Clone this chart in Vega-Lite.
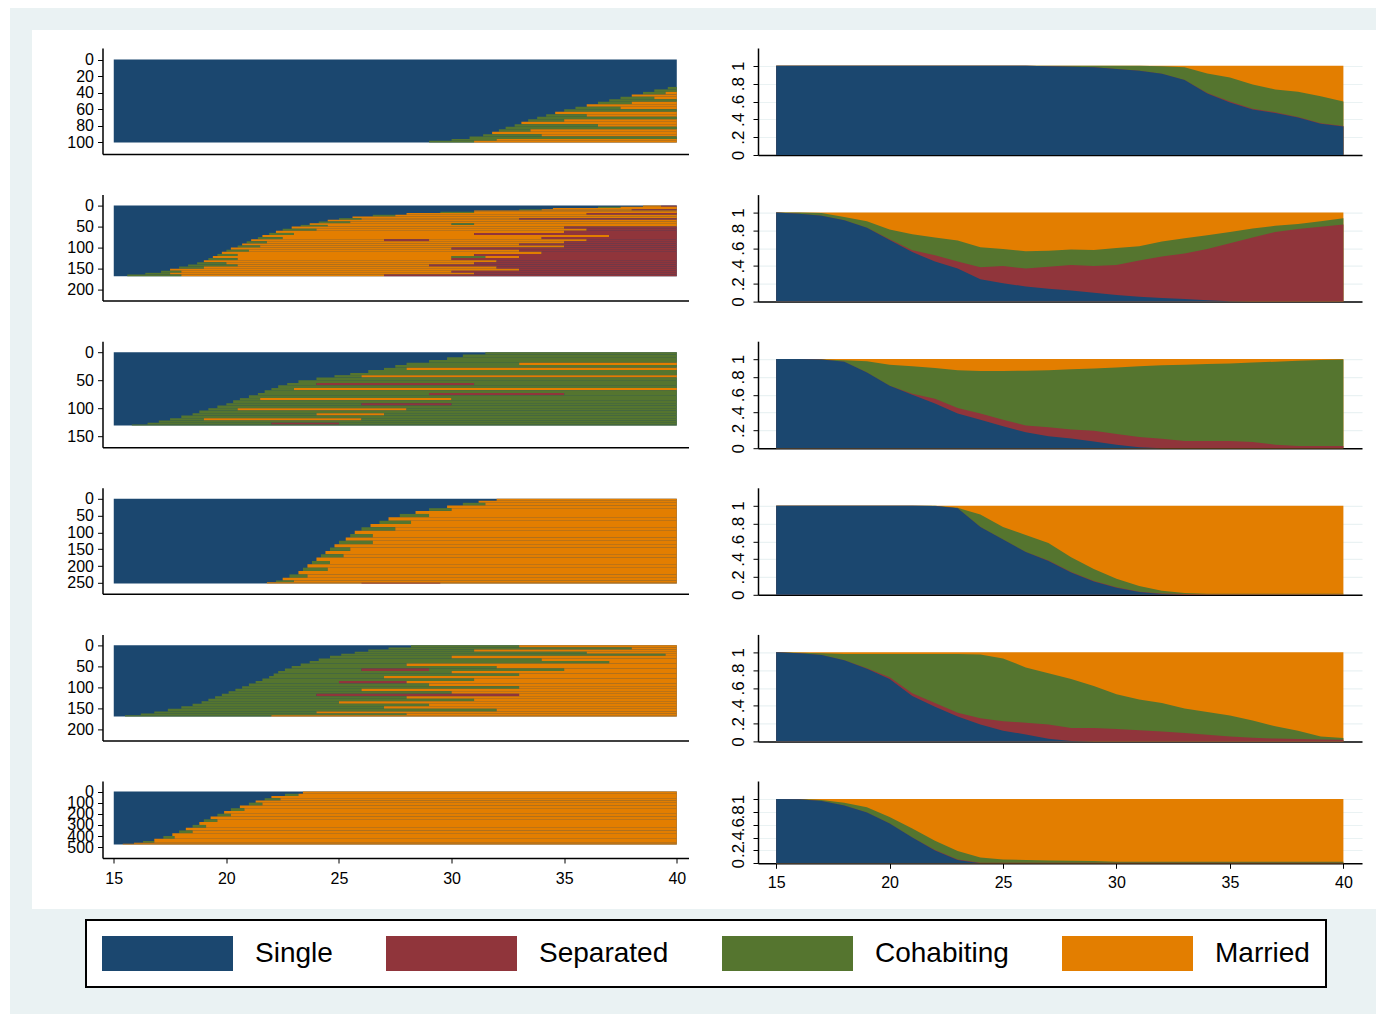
{
"$schema": "https://vega.github.io/schema/vega-lite/v6.json",
"background": "white",
"padding": {"left": 10, "top": 8, "right": 0, "bottom": 0},
"config": {
 "view": {"stroke": null},
 "font": "Liberation Sans",
 "axis": {"domainColor": "#000000", "domainWidth": 1.5, "tickColor": "#000000", "tickWidth": 1, "tickSize": 5, "labelColor": "#000000", "labelFont": "Liberation Sans", "labelFontSize": 16, "grid": false, "labelOverlap": false, "labelFlush": false},
 "legend": {"strokeWidth": 2}
},
"datasets": {
"seq": [
{"p":1,"r0":0,"r1":100,"a0":15,"a1":40,"s":"Single"},
{"p":1,"r0":33,"r1":36,"a0":39.6,"a1":40,"s":"Cohabiting"},
{"p":1,"r0":36,"r1":39,"a0":39,"a1":40,"s":"Cohabiting"},
{"p":1,"r0":39,"r1":42,"a0":38.5,"a1":39.5,"s":"Cohabiting"},
{"p":1,"r0":39,"r1":42,"a0":39.5,"a1":40,"s":"Married"},
{"p":1,"r0":42,"r1":45,"a0":38,"a1":40,"s":"Married"},
{"p":1,"r0":45,"r1":48,"a0":37.5,"a1":39,"s":"Cohabiting"},
{"p":1,"r0":45,"r1":48,"a0":39,"a1":40,"s":"Married"},
{"p":1,"r0":48,"r1":51,"a0":37,"a1":40,"s":"Cohabiting"},
{"p":1,"r0":51,"r1":54,"a0":36.5,"a1":38,"s":"Cohabiting"},
{"p":1,"r0":51,"r1":54,"a0":38,"a1":40,"s":"Married"},
{"p":1,"r0":54,"r1":57,"a0":36,"a1":40,"s":"Married"},
{"p":1,"r0":57,"r1":60,"a0":35.5,"a1":37.5,"s":"Cohabiting"},
{"p":1,"r0":57,"r1":60,"a0":37.5,"a1":40,"s":"Married"},
{"p":1,"r0":60,"r1":63,"a0":35,"a1":40,"s":"Cohabiting"},
{"p":1,"r0":63,"r1":66,"a0":34.6,"a1":40,"s":"Married"},
{"p":1,"r0":66,"r1":69,"a0":34.2,"a1":36,"s":"Cohabiting"},
{"p":1,"r0":66,"r1":69,"a0":36,"a1":40,"s":"Married"},
{"p":1,"r0":69,"r1":72,"a0":33.8,"a1":40,"s":"Cohabiting"},
{"p":1,"r0":72,"r1":75,"a0":33.4,"a1":35,"s":"Cohabiting"},
{"p":1,"r0":72,"r1":75,"a0":35,"a1":40,"s":"Married"},
{"p":1,"r0":75,"r1":78,"a0":33.1,"a1":40,"s":"Married"},
{"p":1,"r0":78,"r1":81,"a0":32.8,"a1":36.5,"s":"Cohabiting"},
{"p":1,"r0":78,"r1":81,"a0":36.5,"a1":40,"s":"Married"},
{"p":1,"r0":81,"r1":84,"a0":32.4,"a1":40,"s":"Cohabiting"},
{"p":1,"r0":84,"r1":87,"a0":32.1,"a1":33.5,"s":"Cohabiting"},
{"p":1,"r0":84,"r1":87,"a0":33.5,"a1":40,"s":"Married"},
{"p":1,"r0":87,"r1":90,"a0":31.8,"a1":40,"s":"Married"},
{"p":1,"r0":90,"r1":93,"a0":31.4,"a1":34,"s":"Cohabiting"},
{"p":1,"r0":90,"r1":93,"a0":34,"a1":40,"s":"Married"},
{"p":1,"r0":93,"r1":96,"a0":30.8,"a1":40,"s":"Cohabiting"},
{"p":1,"r0":96,"r1":98,"a0":30,"a1":32,"s":"Cohabiting"},
{"p":1,"r0":96,"r1":98,"a0":32,"a1":40,"s":"Married"},
{"p":1,"r0":98,"r1":100,"a0":29,"a1":31,"s":"Cohabiting"},
{"p":1,"r0":98,"r1":100,"a0":31,"a1":40,"s":"Married"},

{"p":2,"r0":0,"r1":168,"a0":15,"a1":40,"s":"Single"},
{"p":2,"r0":0,"r1":3,"a0":38.5,"a1":39.3,"s":"Married"},
{"p":2,"r0":0,"r1":3,"a0":39.3,"a1":40,"s":"Separated"},
{"p":2,"r0":3,"r1":6,"a0":36.5,"a1":37.5,"s":"Cohabiting"},
{"p":2,"r0":3,"r1":6,"a0":37.5,"a1":40,"s":"Married"},
{"p":2,"r0":6,"r1":9,"a0":34.5,"a1":40,"s":"Married"},
{"p":2,"r0":9,"r1":12,"a0":33,"a1":34,"s":"Cohabiting"},
{"p":2,"r0":9,"r1":12,"a0":34,"a1":38,"s":"Married"},
{"p":2,"r0":9,"r1":12,"a0":38,"a1":40,"s":"Separated"},
{"p":2,"r0":12,"r1":15,"a0":31,"a1":40,"s":"Married"},
{"p":2,"r0":15,"r1":18,"a0":29.5,"a1":31,"s":"Cohabiting"},
{"p":2,"r0":15,"r1":18,"a0":31,"a1":40,"s":"Married"},
{"p":2,"r0":18,"r1":22,"a0":28,"a1":36,"s":"Married"},
{"p":2,"r0":18,"r1":22,"a0":36,"a1":40,"s":"Separated"},
{"p":2,"r0":22,"r1":26,"a0":26.5,"a1":27.5,"s":"Cohabiting"},
{"p":2,"r0":22,"r1":26,"a0":27.5,"a1":40,"s":"Married"},
{"p":2,"r0":26,"r1":30,"a0":25.6,"a1":40,"s":"Married"},
{"p":2,"r0":30,"r1":34,"a0":25,"a1":26,"s":"Cohabiting"},
{"p":2,"r0":30,"r1":34,"a0":26,"a1":33,"s":"Married"},
{"p":2,"r0":30,"r1":34,"a0":33,"a1":40,"s":"Separated"},
{"p":2,"r0":34,"r1":38,"a0":24.5,"a1":40,"s":"Married"},
{"p":2,"r0":38,"r1":42,"a0":24.1,"a1":25.5,"s":"Cohabiting"},
{"p":2,"r0":38,"r1":42,"a0":25.5,"a1":40,"s":"Married"},
{"p":2,"r0":42,"r1":46,"a0":23.7,"a1":30,"s":"Married"},
{"p":2,"r0":42,"r1":46,"a0":30,"a1":31,"s":"Cohabiting"},
{"p":2,"r0":42,"r1":46,"a0":31,"a1":40,"s":"Married"},
{"p":2,"r0":46,"r1":50,"a0":23.3,"a1":24.5,"s":"Cohabiting"},
{"p":2,"r0":46,"r1":50,"a0":24.5,"a1":40,"s":"Married"},
{"p":2,"r0":50,"r1":55,"a0":22.9,"a1":35,"s":"Married"},
{"p":2,"r0":50,"r1":55,"a0":35,"a1":40,"s":"Separated"},
{"p":2,"r0":55,"r1":60,"a0":22.5,"a1":24,"s":"Cohabiting"},
{"p":2,"r0":55,"r1":60,"a0":24,"a1":36,"s":"Married"},
{"p":2,"r0":55,"r1":60,"a0":36,"a1":40,"s":"Separated"},
{"p":2,"r0":60,"r1":65,"a0":22.2,"a1":35,"s":"Married"},
{"p":2,"r0":60,"r1":65,"a0":35,"a1":40,"s":"Separated"},
{"p":2,"r0":65,"r1":70,"a0":21.9,"a1":23,"s":"Cohabiting"},
{"p":2,"r0":65,"r1":70,"a0":23,"a1":31,"s":"Married"},
{"p":2,"r0":65,"r1":70,"a0":31,"a1":40,"s":"Separated"},
{"p":2,"r0":70,"r1":75,"a0":21.6,"a1":37,"s":"Married"},
{"p":2,"r0":70,"r1":75,"a0":37,"a1":40,"s":"Separated"},
{"p":2,"r0":75,"r1":80,"a0":21.4,"a1":22.5,"s":"Cohabiting"},
{"p":2,"r0":75,"r1":80,"a0":22.5,"a1":34,"s":"Married"},
{"p":2,"r0":75,"r1":80,"a0":34,"a1":40,"s":"Separated"},
{"p":2,"r0":80,"r1":85,"a0":21.1,"a1":27,"s":"Married"},
{"p":2,"r0":80,"r1":85,"a0":27,"a1":29,"s":"Separated"},
{"p":2,"r0":80,"r1":85,"a0":29,"a1":36,"s":"Married"},
{"p":2,"r0":80,"r1":85,"a0":36,"a1":40,"s":"Separated"},
{"p":2,"r0":85,"r1":90,"a0":20.9,"a1":21.8,"s":"Cohabiting"},
{"p":2,"r0":85,"r1":90,"a0":21.8,"a1":35,"s":"Married"},
{"p":2,"r0":85,"r1":90,"a0":35,"a1":40,"s":"Separated"},
{"p":2,"r0":90,"r1":95,"a0":20.7,"a1":33,"s":"Married"},
{"p":2,"r0":90,"r1":95,"a0":33,"a1":40,"s":"Separated"},
{"p":2,"r0":95,"r1":100,"a0":20.5,"a1":21.5,"s":"Cohabiting"},
{"p":2,"r0":95,"r1":100,"a0":21.5,"a1":35,"s":"Married"},
{"p":2,"r0":95,"r1":100,"a0":35,"a1":40,"s":"Separated"},
{"p":2,"r0":100,"r1":105,"a0":20.2,"a1":30,"s":"Married"},
{"p":2,"r0":100,"r1":105,"a0":30,"a1":40,"s":"Separated"},
{"p":2,"r0":105,"r1":110,"a0":20,"a1":21,"s":"Cohabiting"},
{"p":2,"r0":105,"r1":110,"a0":21,"a1":33,"s":"Married"},
{"p":2,"r0":105,"r1":110,"a0":33,"a1":40,"s":"Separated"},
{"p":2,"r0":110,"r1":115,"a0":19.8,"a1":34,"s":"Married"},
{"p":2,"r0":110,"r1":115,"a0":34,"a1":40,"s":"Separated"},
{"p":2,"r0":115,"r1":120,"a0":19.6,"a1":20.5,"s":"Cohabiting"},
{"p":2,"r0":115,"r1":120,"a0":20.5,"a1":31,"s":"Married"},
{"p":2,"r0":115,"r1":120,"a0":31,"a1":40,"s":"Separated"},
{"p":2,"r0":120,"r1":125,"a0":19.4,"a1":30,"s":"Married"},
{"p":2,"r0":120,"r1":125,"a0":30,"a1":31.5,"s":"Cohabiting"},
{"p":2,"r0":120,"r1":125,"a0":31.5,"a1":33,"s":"Married"},
{"p":2,"r0":120,"r1":125,"a0":33,"a1":40,"s":"Separated"},
{"p":2,"r0":125,"r1":130,"a0":19.2,"a1":20.5,"s":"Cohabiting"},
{"p":2,"r0":125,"r1":130,"a0":20.5,"a1":30,"s":"Married"},
{"p":2,"r0":125,"r1":130,"a0":30,"a1":40,"s":"Separated"},
{"p":2,"r0":130,"r1":135,"a0":19,"a1":32,"s":"Married"},
{"p":2,"r0":130,"r1":135,"a0":32,"a1":40,"s":"Separated"},
{"p":2,"r0":135,"r1":140,"a0":18.7,"a1":20,"s":"Cohabiting"},
{"p":2,"r0":135,"r1":140,"a0":20,"a1":31,"s":"Married"},
{"p":2,"r0":135,"r1":140,"a0":31,"a1":40,"s":"Separated"},
{"p":2,"r0":140,"r1":145,"a0":18.3,"a1":20.5,"s":"Cohabiting"},
{"p":2,"r0":140,"r1":145,"a0":20.5,"a1":29,"s":"Married"},
{"p":2,"r0":140,"r1":145,"a0":29,"a1":40,"s":"Separated"},
{"p":2,"r0":145,"r1":150,"a0":17.9,"a1":19,"s":"Cohabiting"},
{"p":2,"r0":145,"r1":150,"a0":19,"a1":32,"s":"Married"},
{"p":2,"r0":145,"r1":150,"a0":32,"a1":40,"s":"Separated"},
{"p":2,"r0":150,"r1":155,"a0":17.5,"a1":33,"s":"Married"},
{"p":2,"r0":150,"r1":155,"a0":33,"a1":40,"s":"Separated"},
{"p":2,"r0":155,"r1":160,"a0":17.1,"a1":18,"s":"Cohabiting"},
{"p":2,"r0":155,"r1":160,"a0":18,"a1":30,"s":"Married"},
{"p":2,"r0":155,"r1":160,"a0":30,"a1":40,"s":"Separated"},
{"p":2,"r0":160,"r1":164,"a0":16.4,"a1":17.5,"s":"Cohabiting"},
{"p":2,"r0":160,"r1":164,"a0":17.5,"a1":31,"s":"Married"},
{"p":2,"r0":160,"r1":164,"a0":31,"a1":40,"s":"Separated"},
{"p":2,"r0":164,"r1":168,"a0":15.6,"a1":18,"s":"Cohabiting"},
{"p":2,"r0":164,"r1":168,"a0":18,"a1":27,"s":"Married"},
{"p":2,"r0":164,"r1":168,"a0":27,"a1":40,"s":"Separated"},

{"p":3,"r0":0,"r1":131,"a0":15,"a1":40,"s":"Single"},
{"p":3,"r0":0,"r1":4,"a0":31.5,"a1":40,"s":"Cohabiting"},
{"p":3,"r0":4,"r1":9,"a0":30.5,"a1":40,"s":"Cohabiting"},
{"p":3,"r0":9,"r1":14,"a0":29.8,"a1":40,"s":"Cohabiting"},
{"p":3,"r0":14,"r1":19,"a0":29,"a1":40,"s":"Cohabiting"},
{"p":3,"r0":19,"r1":23,"a0":28,"a1":33,"s":"Cohabiting"},
{"p":3,"r0":19,"r1":23,"a0":33,"a1":40,"s":"Married"},
{"p":3,"r0":23,"r1":28,"a0":27.5,"a1":40,"s":"Cohabiting"},
{"p":3,"r0":28,"r1":32,"a0":27,"a1":28,"s":"Cohabiting"},
{"p":3,"r0":28,"r1":32,"a0":28,"a1":40,"s":"Married"},
{"p":3,"r0":32,"r1":37,"a0":26.3,"a1":40,"s":"Cohabiting"},
{"p":3,"r0":37,"r1":41,"a0":25.5,"a1":40,"s":"Cohabiting"},
{"p":3,"r0":41,"r1":45,"a0":24.8,"a1":26,"s":"Cohabiting"},
{"p":3,"r0":41,"r1":45,"a0":26,"a1":40,"s":"Married"},
{"p":3,"r0":45,"r1":50,"a0":24,"a1":40,"s":"Cohabiting"},
{"p":3,"r0":50,"r1":55,"a0":23.2,"a1":40,"s":"Cohabiting"},
{"p":3,"r0":55,"r1":59,"a0":22.7,"a1":24,"s":"Cohabiting"},
{"p":3,"r0":55,"r1":59,"a0":24,"a1":31,"s":"Separated"},
{"p":3,"r0":55,"r1":59,"a0":31,"a1":40,"s":"Cohabiting"},
{"p":3,"r0":59,"r1":64,"a0":22.3,"a1":40,"s":"Cohabiting"},
{"p":3,"r0":64,"r1":68,"a0":22,"a1":23,"s":"Cohabiting"},
{"p":3,"r0":64,"r1":68,"a0":23,"a1":40,"s":"Married"},
{"p":3,"r0":68,"r1":73,"a0":21.7,"a1":40,"s":"Cohabiting"},
{"p":3,"r0":73,"r1":77,"a0":21.4,"a1":29,"s":"Cohabiting"},
{"p":3,"r0":73,"r1":77,"a0":29,"a1":35,"s":"Separated"},
{"p":3,"r0":73,"r1":77,"a0":35,"a1":40,"s":"Cohabiting"},
{"p":3,"r0":77,"r1":82,"a0":21,"a1":40,"s":"Cohabiting"},
{"p":3,"r0":82,"r1":86,"a0":20.6,"a1":21.5,"s":"Cohabiting"},
{"p":3,"r0":82,"r1":86,"a0":21.5,"a1":30,"s":"Married"},
{"p":3,"r0":82,"r1":86,"a0":30,"a1":40,"s":"Cohabiting"},
{"p":3,"r0":86,"r1":91,"a0":20.3,"a1":40,"s":"Cohabiting"},
{"p":3,"r0":91,"r1":95,"a0":20,"a1":26,"s":"Cohabiting"},
{"p":3,"r0":91,"r1":95,"a0":26,"a1":30,"s":"Separated"},
{"p":3,"r0":91,"r1":95,"a0":30,"a1":40,"s":"Cohabiting"},
{"p":3,"r0":95,"r1":100,"a0":19.6,"a1":40,"s":"Cohabiting"},
{"p":3,"r0":100,"r1":104,"a0":19.2,"a1":20.5,"s":"Cohabiting"},
{"p":3,"r0":100,"r1":104,"a0":20.5,"a1":28,"s":"Married"},
{"p":3,"r0":100,"r1":104,"a0":28,"a1":40,"s":"Cohabiting"},
{"p":3,"r0":104,"r1":109,"a0":18.8,"a1":40,"s":"Cohabiting"},
{"p":3,"r0":109,"r1":113,"a0":18.5,"a1":24,"s":"Cohabiting"},
{"p":3,"r0":109,"r1":113,"a0":24,"a1":27,"s":"Married"},
{"p":3,"r0":109,"r1":113,"a0":27,"a1":40,"s":"Cohabiting"},
{"p":3,"r0":113,"r1":118,"a0":18,"a1":40,"s":"Cohabiting"},
{"p":3,"r0":118,"r1":122,"a0":17.5,"a1":19,"s":"Cohabiting"},
{"p":3,"r0":118,"r1":122,"a0":19,"a1":26,"s":"Married"},
{"p":3,"r0":118,"r1":122,"a0":26,"a1":40,"s":"Cohabiting"},
{"p":3,"r0":122,"r1":126,"a0":17,"a1":40,"s":"Cohabiting"},
{"p":3,"r0":126,"r1":129,"a0":16.5,"a1":22,"s":"Cohabiting"},
{"p":3,"r0":126,"r1":129,"a0":22,"a1":25,"s":"Separated"},
{"p":3,"r0":126,"r1":129,"a0":25,"a1":40,"s":"Cohabiting"},
{"p":3,"r0":129,"r1":131,"a0":15.8,"a1":40,"s":"Cohabiting"},

{"p":4,"r0":0,"r1":252,"a0":15,"a1":40,"s":"Single"},
{"p":4,"r0":0,"r1":6,"a0":32,"a1":40,"s":"Married"},
{"p":4,"r0":6,"r1":12,"a0":31.2,"a1":40,"s":"Married"},
{"p":4,"r0":12,"r1":20,"a0":30.5,"a1":31.5,"s":"Cohabiting"},
{"p":4,"r0":12,"r1":20,"a0":31.5,"a1":40,"s":"Married"},
{"p":4,"r0":20,"r1":28,"a0":29.8,"a1":40,"s":"Married"},
{"p":4,"r0":28,"r1":36,"a0":29,"a1":30,"s":"Cohabiting"},
{"p":4,"r0":28,"r1":36,"a0":30,"a1":40,"s":"Married"},
{"p":4,"r0":36,"r1":45,"a0":28.4,"a1":40,"s":"Married"},
{"p":4,"r0":45,"r1":55,"a0":27.7,"a1":29,"s":"Cohabiting"},
{"p":4,"r0":45,"r1":55,"a0":29,"a1":40,"s":"Married"},
{"p":4,"r0":55,"r1":65,"a0":27.2,"a1":40,"s":"Married"},
{"p":4,"r0":65,"r1":75,"a0":26.8,"a1":28.2,"s":"Cohabiting"},
{"p":4,"r0":65,"r1":75,"a0":28.2,"a1":40,"s":"Married"},
{"p":4,"r0":75,"r1":85,"a0":26.4,"a1":40,"s":"Married"},
{"p":4,"r0":85,"r1":95,"a0":26,"a1":27.5,"s":"Cohabiting"},
{"p":4,"r0":85,"r1":95,"a0":27.5,"a1":40,"s":"Married"},
{"p":4,"r0":95,"r1":105,"a0":25.7,"a1":40,"s":"Married"},
{"p":4,"r0":105,"r1":115,"a0":25.5,"a1":26.5,"s":"Cohabiting"},
{"p":4,"r0":105,"r1":115,"a0":26.5,"a1":40,"s":"Married"},
{"p":4,"r0":115,"r1":125,"a0":25.3,"a1":40,"s":"Married"},
{"p":4,"r0":125,"r1":135,"a0":25,"a1":26.5,"s":"Cohabiting"},
{"p":4,"r0":125,"r1":135,"a0":26.5,"a1":40,"s":"Married"},
{"p":4,"r0":135,"r1":145,"a0":24.8,"a1":40,"s":"Married"},
{"p":4,"r0":145,"r1":155,"a0":24.6,"a1":25.5,"s":"Cohabiting"},
{"p":4,"r0":145,"r1":155,"a0":25.5,"a1":40,"s":"Married"},
{"p":4,"r0":155,"r1":165,"a0":24.4,"a1":40,"s":"Married"},
{"p":4,"r0":165,"r1":175,"a0":24.2,"a1":25.2,"s":"Cohabiting"},
{"p":4,"r0":165,"r1":175,"a0":25.2,"a1":40,"s":"Married"},
{"p":4,"r0":175,"r1":185,"a0":24,"a1":40,"s":"Married"},
{"p":4,"r0":185,"r1":195,"a0":23.8,"a1":24.6,"s":"Cohabiting"},
{"p":4,"r0":185,"r1":195,"a0":24.6,"a1":40,"s":"Married"},
{"p":4,"r0":195,"r1":205,"a0":23.6,"a1":40,"s":"Married"},
{"p":4,"r0":205,"r1":215,"a0":23.4,"a1":24.5,"s":"Cohabiting"},
{"p":4,"r0":205,"r1":215,"a0":24.5,"a1":40,"s":"Married"},
{"p":4,"r0":215,"r1":225,"a0":23.2,"a1":40,"s":"Married"},
{"p":4,"r0":225,"r1":235,"a0":22.8,"a1":23.6,"s":"Cohabiting"},
{"p":4,"r0":225,"r1":235,"a0":23.6,"a1":40,"s":"Married"},
{"p":4,"r0":235,"r1":243,"a0":22.5,"a1":40,"s":"Married"},
{"p":4,"r0":243,"r1":248,"a0":22.2,"a1":23,"s":"Cohabiting"},
{"p":4,"r0":243,"r1":248,"a0":23,"a1":40,"s":"Married"},
{"p":4,"r0":248,"r1":252,"a0":21.8,"a1":40,"s":"Married"},
{"p":4,"r0":250,"r1":252,"a0":26,"a1":29.5,"s":"Separated"},

{"p":5,"r0":0,"r1":169,"a0":15,"a1":40,"s":"Single"},
{"p":5,"r0":0,"r1":5,"a0":28.2,"a1":33,"s":"Cohabiting"},
{"p":5,"r0":0,"r1":5,"a0":33,"a1":40,"s":"Married"},
{"p":5,"r0":5,"r1":10,"a0":27.2,"a1":38,"s":"Cohabiting"},
{"p":5,"r0":5,"r1":10,"a0":38,"a1":40,"s":"Married"},
{"p":5,"r0":10,"r1":15,"a0":26.3,"a1":31,"s":"Cohabiting"},
{"p":5,"r0":10,"r1":15,"a0":31,"a1":40,"s":"Married"},
{"p":5,"r0":15,"r1":20,"a0":25.7,"a1":36,"s":"Cohabiting"},
{"p":5,"r0":15,"r1":20,"a0":36,"a1":40,"s":"Married"},
{"p":5,"r0":20,"r1":25,"a0":25.1,"a1":39.5,"s":"Cohabiting"},
{"p":5,"r0":20,"r1":25,"a0":39.5,"a1":40,"s":"Married"},
{"p":5,"r0":25,"r1":31,"a0":24.6,"a1":30,"s":"Cohabiting"},
{"p":5,"r0":25,"r1":31,"a0":30,"a1":40,"s":"Married"},
{"p":5,"r0":31,"r1":37,"a0":24.1,"a1":34,"s":"Cohabiting"},
{"p":5,"r0":31,"r1":37,"a0":34,"a1":40,"s":"Married"},
{"p":5,"r0":37,"r1":43,"a0":23.7,"a1":37,"s":"Cohabiting"},
{"p":5,"r0":37,"r1":43,"a0":37,"a1":40,"s":"Married"},
{"p":5,"r0":43,"r1":49,"a0":23.3,"a1":28,"s":"Cohabiting"},
{"p":5,"r0":43,"r1":49,"a0":28,"a1":40,"s":"Married"},
{"p":5,"r0":49,"r1":55,"a0":22.9,"a1":32,"s":"Cohabiting"},
{"p":5,"r0":49,"r1":55,"a0":32,"a1":40,"s":"Married"},
{"p":5,"r0":55,"r1":61,"a0":22.6,"a1":26,"s":"Cohabiting"},
{"p":5,"r0":55,"r1":61,"a0":26,"a1":29,"s":"Separated"},
{"p":5,"r0":55,"r1":61,"a0":29,"a1":35,"s":"Cohabiting"},
{"p":5,"r0":55,"r1":61,"a0":35,"a1":40,"s":"Married"},
{"p":5,"r0":61,"r1":67,"a0":22.3,"a1":30,"s":"Cohabiting"},
{"p":5,"r0":61,"r1":67,"a0":30,"a1":40,"s":"Married"},
{"p":5,"r0":67,"r1":73,"a0":22.1,"a1":33,"s":"Cohabiting"},
{"p":5,"r0":67,"r1":73,"a0":33,"a1":40,"s":"Married"},
{"p":5,"r0":73,"r1":79,"a0":21.9,"a1":27,"s":"Cohabiting"},
{"p":5,"r0":73,"r1":79,"a0":27,"a1":40,"s":"Married"},
{"p":5,"r0":79,"r1":85,"a0":21.6,"a1":31,"s":"Cohabiting"},
{"p":5,"r0":79,"r1":85,"a0":31,"a1":40,"s":"Married"},
{"p":5,"r0":85,"r1":91,"a0":21.3,"a1":25,"s":"Cohabiting"},
{"p":5,"r0":85,"r1":91,"a0":25,"a1":28,"s":"Separated"},
{"p":5,"r0":85,"r1":91,"a0":28,"a1":40,"s":"Married"},
{"p":5,"r0":91,"r1":97,"a0":21,"a1":29,"s":"Cohabiting"},
{"p":5,"r0":91,"r1":97,"a0":29,"a1":40,"s":"Married"},
{"p":5,"r0":97,"r1":103,"a0":20.7,"a1":33,"s":"Cohabiting"},
{"p":5,"r0":97,"r1":103,"a0":33,"a1":40,"s":"Married"},
{"p":5,"r0":103,"r1":109,"a0":20.4,"a1":26,"s":"Cohabiting"},
{"p":5,"r0":103,"r1":109,"a0":26,"a1":40,"s":"Married"},
{"p":5,"r0":109,"r1":115,"a0":20.1,"a1":30,"s":"Cohabiting"},
{"p":5,"r0":109,"r1":115,"a0":30,"a1":40,"s":"Married"},
{"p":5,"r0":115,"r1":121,"a0":19.8,"a1":24,"s":"Cohabiting"},
{"p":5,"r0":115,"r1":121,"a0":24,"a1":33,"s":"Separated"},
{"p":5,"r0":115,"r1":121,"a0":33,"a1":40,"s":"Married"},
{"p":5,"r0":121,"r1":127,"a0":19.5,"a1":28,"s":"Cohabiting"},
{"p":5,"r0":121,"r1":127,"a0":28,"a1":40,"s":"Married"},
{"p":5,"r0":127,"r1":133,"a0":19.2,"a1":31,"s":"Cohabiting"},
{"p":5,"r0":127,"r1":133,"a0":31,"a1":40,"s":"Married"},
{"p":5,"r0":133,"r1":139,"a0":18.9,"a1":25,"s":"Cohabiting"},
{"p":5,"r0":133,"r1":139,"a0":25,"a1":40,"s":"Married"},
{"p":5,"r0":139,"r1":145,"a0":18.5,"a1":29,"s":"Cohabiting"},
{"p":5,"r0":139,"r1":145,"a0":29,"a1":40,"s":"Married"},
{"p":5,"r0":145,"r1":151,"a0":18,"a1":27,"s":"Cohabiting"},
{"p":5,"r0":145,"r1":151,"a0":27,"a1":40,"s":"Married"},
{"p":5,"r0":151,"r1":157,"a0":17.4,"a1":32,"s":"Cohabiting"},
{"p":5,"r0":151,"r1":157,"a0":32,"a1":40,"s":"Married"},
{"p":5,"r0":157,"r1":162,"a0":16.8,"a1":24,"s":"Cohabiting"},
{"p":5,"r0":157,"r1":162,"a0":24,"a1":40,"s":"Married"},
{"p":5,"r0":162,"r1":166,"a0":16.2,"a1":28,"s":"Cohabiting"},
{"p":5,"r0":162,"r1":166,"a0":28,"a1":40,"s":"Married"},
{"p":5,"r0":166,"r1":169,"a0":15.5,"a1":22,"s":"Cohabiting"},
{"p":5,"r0":166,"r1":169,"a0":22,"a1":40,"s":"Married"},

{"p":6,"r0":0,"r1":476,"a0":15,"a1":40,"s":"Single"},
{"p":6,"r0":0,"r1":20,"a0":23.4,"a1":40,"s":"Married"},
{"p":6,"r0":20,"r1":40,"a0":22.6,"a1":23.2,"s":"Cohabiting"},
{"p":6,"r0":20,"r1":40,"a0":23.2,"a1":40,"s":"Married"},
{"p":6,"r0":40,"r1":60,"a0":22,"a1":40,"s":"Married"},
{"p":6,"r0":60,"r1":80,"a0":21.7,"a1":22.4,"s":"Cohabiting"},
{"p":6,"r0":60,"r1":80,"a0":22.4,"a1":40,"s":"Married"},
{"p":6,"r0":80,"r1":100,"a0":21.3,"a1":40,"s":"Married"},
{"p":6,"r0":100,"r1":125,"a0":21,"a1":21.6,"s":"Cohabiting"},
{"p":6,"r0":100,"r1":125,"a0":21.6,"a1":40,"s":"Married"},
{"p":6,"r0":125,"r1":150,"a0":20.6,"a1":40,"s":"Married"},
{"p":6,"r0":150,"r1":175,"a0":20.2,"a1":20.8,"s":"Cohabiting"},
{"p":6,"r0":150,"r1":175,"a0":20.8,"a1":40,"s":"Married"},
{"p":6,"r0":175,"r1":200,"a0":19.9,"a1":40,"s":"Married"},
{"p":6,"r0":200,"r1":225,"a0":19.6,"a1":20.2,"s":"Cohabiting"},
{"p":6,"r0":200,"r1":225,"a0":20.2,"a1":40,"s":"Married"},
{"p":6,"r0":225,"r1":250,"a0":19.3,"a1":40,"s":"Married"},
{"p":6,"r0":250,"r1":275,"a0":19,"a1":19.6,"s":"Cohabiting"},
{"p":6,"r0":250,"r1":275,"a0":19.6,"a1":40,"s":"Married"},
{"p":6,"r0":275,"r1":300,"a0":18.8,"a1":40,"s":"Married"},
{"p":6,"r0":300,"r1":325,"a0":18.5,"a1":19.1,"s":"Cohabiting"},
{"p":6,"r0":300,"r1":325,"a0":19.1,"a1":40,"s":"Married"},
{"p":6,"r0":325,"r1":350,"a0":18.2,"a1":40,"s":"Married"},
{"p":6,"r0":350,"r1":375,"a0":17.9,"a1":18.5,"s":"Cohabiting"},
{"p":6,"r0":350,"r1":375,"a0":18.5,"a1":40,"s":"Married"},
{"p":6,"r0":375,"r1":400,"a0":17.6,"a1":40,"s":"Married"},
{"p":6,"r0":400,"r1":425,"a0":17.2,"a1":17.7,"s":"Cohabiting"},
{"p":6,"r0":400,"r1":425,"a0":17.7,"a1":40,"s":"Married"},
{"p":6,"r0":425,"r1":445,"a0":16.8,"a1":40,"s":"Married"},
{"p":6,"r0":445,"r1":460,"a0":16.3,"a1":16.8,"s":"Cohabiting"},
{"p":6,"r0":445,"r1":460,"a0":16.8,"a1":40,"s":"Married"},
{"p":6,"r0":460,"r1":470,"a0":15.9,"a1":40,"s":"Married"},
{"p":6,"r0":470,"r1":476,"a0":15.4,"a1":40,"s":"Married"}
],
"dist": [
{"p":1,"age":15,"t":1,"b":1,"r":1,"g":1},
{"p":1,"age":26,"t":1,"b":1,"r":1,"g":1},
{"p":1,"age":27,"t":1,"b":0.995,"r":0.995,"g":1},
{"p":1,"age":28,"t":1,"b":0.99,"r":0.99,"g":1},
{"p":1,"age":29,"t":1,"b":0.985,"r":0.985,"g":1},
{"p":1,"age":30,"t":1,"b":0.965,"r":0.965,"g":1},
{"p":1,"age":31,"t":1,"b":0.945,"r":0.945,"g":1},
{"p":1,"age":32,"t":1,"b":0.91,"r":0.91,"g":0.995},
{"p":1,"age":33,"t":1,"b":0.84,"r":0.84,"g":0.985},
{"p":1,"age":34,"t":1,"b":0.69,"r":0.695,"g":0.915},
{"p":1,"age":35,"t":1,"b":0.59,"r":0.6,"g":0.87},
{"p":1,"age":36,"t":1,"b":0.51,"r":0.52,"g":0.79},
{"p":1,"age":37,"t":1,"b":0.47,"r":0.48,"g":0.735},
{"p":1,"age":38,"t":1,"b":0.42,"r":0.425,"g":0.71},
{"p":1,"age":39,"t":1,"b":0.35,"r":0.355,"g":0.66},
{"p":1,"age":40,"t":1,"b":0.32,"r":0.325,"g":0.6},

{"p":2,"age":15,"t":1,"b":1,"r":1,"g":1},
{"p":2,"age":16,"t":1,"b":0.985,"r":0.985,"g":1},
{"p":2,"age":17,"t":1,"b":0.962,"r":0.962,"g":0.993},
{"p":2,"age":18,"t":1,"b":0.912,"r":0.912,"g":0.95},
{"p":2,"age":19,"t":1,"b":0.828,"r":0.828,"g":0.9},
{"p":2,"age":20,"t":1,"b":0.69,"r":0.7,"g":0.81},
{"p":2,"age":21,"t":1,"b":0.555,"r":0.575,"g":0.755},
{"p":2,"age":22,"t":1,"b":0.45,"r":0.52,"g":0.72},
{"p":2,"age":23,"t":1,"b":0.37,"r":0.45,"g":0.685},
{"p":2,"age":24,"t":1,"b":0.25,"r":0.385,"g":0.61},
{"p":2,"age":25,"t":1,"b":0.205,"r":0.4,"g":0.59},
{"p":2,"age":26,"t":1,"b":0.17,"r":0.37,"g":0.565},
{"p":2,"age":27,"t":1,"b":0.145,"r":0.39,"g":0.57},
{"p":2,"age":28,"t":1,"b":0.125,"r":0.41,"g":0.585},
{"p":2,"age":29,"t":1,"b":0.1,"r":0.4,"g":0.58},
{"p":2,"age":30,"t":1,"b":0.075,"r":0.41,"g":0.6},
{"p":2,"age":31,"t":1,"b":0.055,"r":0.46,"g":0.62},
{"p":2,"age":32,"t":1,"b":0.04,"r":0.505,"g":0.675},
{"p":2,"age":33,"t":1,"b":0.03,"r":0.54,"g":0.71},
{"p":2,"age":34,"t":1,"b":0.015,"r":0.59,"g":0.745},
{"p":2,"age":35,"t":1,"b":0.005,"r":0.655,"g":0.78},
{"p":2,"age":36,"t":1,"b":0,"r":0.72,"g":0.82},
{"p":2,"age":37,"t":1,"b":0,"r":0.78,"g":0.85},
{"p":2,"age":38,"t":1,"b":0,"r":0.815,"g":0.87},
{"p":2,"age":39,"t":1,"b":0,"r":0.84,"g":0.9},
{"p":2,"age":40,"t":1,"b":0,"r":0.865,"g":0.935},

{"p":3,"age":15,"t":1,"b":1,"r":1,"g":1},
{"p":3,"age":16,"t":1,"b":1,"r":1,"g":1},
{"p":3,"age":17,"t":1,"b":0.995,"r":0.995,"g":0.995},
{"p":3,"age":18,"t":1,"b":0.97,"r":0.97,"g":0.985},
{"p":3,"age":19,"t":1,"b":0.85,"r":0.85,"g":0.975},
{"p":3,"age":20,"t":1,"b":0.7,"r":0.7,"g":0.935},
{"p":3,"age":21,"t":1,"b":0.6,"r":0.61,"g":0.92},
{"p":3,"age":22,"t":1,"b":0.5,"r":0.555,"g":0.9},
{"p":3,"age":23,"t":1,"b":0.39,"r":0.45,"g":0.875},
{"p":3,"age":24,"t":1,"b":0.32,"r":0.39,"g":0.865},
{"p":3,"age":25,"t":1,"b":0.245,"r":0.32,"g":0.865},
{"p":3,"age":26,"t":1,"b":0.18,"r":0.255,"g":0.87},
{"p":3,"age":27,"t":1,"b":0.135,"r":0.235,"g":0.875},
{"p":3,"age":28,"t":1,"b":0.11,"r":0.21,"g":0.885},
{"p":3,"age":29,"t":1,"b":0.075,"r":0.195,"g":0.895},
{"p":3,"age":30,"t":1,"b":0.04,"r":0.16,"g":0.905},
{"p":3,"age":31,"t":1,"b":0.012,"r":0.125,"g":0.92},
{"p":3,"age":32,"t":1,"b":0,"r":0.105,"g":0.93},
{"p":3,"age":33,"t":1,"b":0,"r":0.08,"g":0.935},
{"p":3,"age":34,"t":1,"b":0,"r":0.08,"g":0.945},
{"p":3,"age":35,"t":1,"b":0,"r":0.082,"g":0.95},
{"p":3,"age":36,"t":1,"b":0,"r":0.07,"g":0.96},
{"p":3,"age":37,"t":1,"b":0,"r":0.04,"g":0.97},
{"p":3,"age":38,"t":1,"b":0,"r":0.026,"g":0.98},
{"p":3,"age":39,"t":1,"b":0,"r":0.026,"g":0.99},
{"p":3,"age":40,"t":1,"b":0,"r":0.025,"g":0.995},

{"p":4,"age":15,"t":1,"b":1,"r":1,"g":1},
{"p":4,"age":21,"t":1,"b":1,"r":1,"g":1},
{"p":4,"age":22,"t":1,"b":0.995,"r":0.995,"g":1},
{"p":4,"age":23,"t":1,"b":0.97,"r":0.97,"g":0.975},
{"p":4,"age":24,"t":1,"b":0.76,"r":0.76,"g":0.9},
{"p":4,"age":25,"t":1,"b":0.62,"r":0.62,"g":0.76},
{"p":4,"age":26,"t":1,"b":0.48,"r":0.48,"g":0.67},
{"p":4,"age":27,"t":1,"b":0.38,"r":0.385,"g":0.58},
{"p":4,"age":28,"t":1,"b":0.25,"r":0.255,"g":0.42},
{"p":4,"age":29,"t":1,"b":0.15,"r":0.155,"g":0.29},
{"p":4,"age":30,"t":1,"b":0.08,"r":0.085,"g":0.18},
{"p":4,"age":31,"t":1,"b":0.03,"r":0.035,"g":0.1},
{"p":4,"age":32,"t":1,"b":0.01,"r":0.015,"g":0.045},
{"p":4,"age":33,"t":1,"b":0,"r":0.008,"g":0.02},
{"p":4,"age":34,"t":1,"b":0,"r":0.006,"g":0.012},
{"p":4,"age":40,"t":1,"b":0,"r":0.006,"g":0.012},

{"p":5,"age":15,"t":1,"b":1,"r":1,"g":1},
{"p":5,"age":16,"t":1,"b":0.99,"r":0.99,"g":0.995},
{"p":5,"age":17,"t":1,"b":0.97,"r":0.97,"g":0.99},
{"p":5,"age":18,"t":1,"b":0.91,"r":0.91,"g":0.98},
{"p":5,"age":19,"t":1,"b":0.815,"r":0.82,"g":0.98},
{"p":5,"age":20,"t":1,"b":0.7,"r":0.72,"g":0.98},
{"p":5,"age":21,"t":1,"b":0.51,"r":0.54,"g":0.98},
{"p":5,"age":22,"t":1,"b":0.39,"r":0.43,"g":0.98},
{"p":5,"age":23,"t":1,"b":0.28,"r":0.32,"g":0.98},
{"p":5,"age":24,"t":1,"b":0.19,"r":0.26,"g":0.975},
{"p":5,"age":25,"t":1,"b":0.12,"r":0.225,"g":0.93},
{"p":5,"age":26,"t":1,"b":0.078,"r":0.21,"g":0.83},
{"p":5,"age":27,"t":1,"b":0.03,"r":0.19,"g":0.765},
{"p":5,"age":28,"t":1,"b":0.005,"r":0.15,"g":0.7},
{"p":5,"age":29,"t":1,"b":0,"r":0.15,"g":0.62},
{"p":5,"age":30,"t":1,"b":0,"r":0.14,"g":0.53},
{"p":5,"age":31,"t":1,"b":0,"r":0.125,"g":0.47},
{"p":5,"age":32,"t":1,"b":0,"r":0.11,"g":0.43},
{"p":5,"age":33,"t":1,"b":0,"r":0.095,"g":0.37},
{"p":5,"age":34,"t":1,"b":0,"r":0.075,"g":0.33},
{"p":5,"age":35,"t":1,"b":0,"r":0.055,"g":0.29},
{"p":5,"age":36,"t":1,"b":0,"r":0.04,"g":0.235},
{"p":5,"age":37,"t":1,"b":0,"r":0.032,"g":0.17},
{"p":5,"age":38,"t":1,"b":0,"r":0.026,"g":0.12},
{"p":5,"age":39,"t":1,"b":0,"r":0.022,"g":0.055},
{"p":5,"age":40,"t":1,"b":0,"r":0.018,"g":0.037},

{"p":6,"age":15,"t":1,"b":1,"r":1,"g":1},
{"p":6,"age":16,"t":1,"b":0.995,"r":0.995,"g":1},
{"p":6,"age":17,"t":1,"b":0.97,"r":0.97,"g":0.985},
{"p":6,"age":18,"t":1,"b":0.9,"r":0.9,"g":0.94},
{"p":6,"age":19,"t":1,"b":0.79,"r":0.79,"g":0.87},
{"p":6,"age":20,"t":1,"b":0.62,"r":0.62,"g":0.72},
{"p":6,"age":21,"t":1,"b":0.4,"r":0.4,"g":0.54},
{"p":6,"age":22,"t":1,"b":0.2,"r":0.205,"g":0.35},
{"p":6,"age":23,"t":1,"b":0.05,"r":0.06,"g":0.19},
{"p":6,"age":24,"t":1,"b":0,"r":0.01,"g":0.09},
{"p":6,"age":25,"t":1,"b":0,"r":0.01,"g":0.06},
{"p":6,"age":26,"t":1,"b":0,"r":0.01,"g":0.05},
{"p":6,"age":27,"t":1,"b":0,"r":0.01,"g":0.045},
{"p":6,"age":28,"t":1,"b":0,"r":0.01,"g":0.04},
{"p":6,"age":29,"t":1,"b":0,"r":0.01,"g":0.035},
{"p":6,"age":30,"t":1,"b":0,"r":0.01,"g":0.025},
{"p":6,"age":40,"t":1,"b":0,"r":0.01,"g":0.025}
]
},
"spacing": 0,
"hconcat": [
 {"width": 22, "height": 1006, "view": {"fill": "#eaf2f3"}, "data": {"values": [{}]}, "mark": {"type": "point", "opacity": 0, "size": 0, "strokeWidth": 0}, "encoding": {}},
 {"spacing": 18, "vconcat": [
  {"width": 1344, "height": 22, "view": {"fill": "#eaf2f3"}, "data": {"values": [{}]}, "mark": {"type": "point", "opacity": 0, "size": 0, "strokeWidth": 0}, "encoding": {}},
  {"columns": 3, "bounds": "flush", "align": "each", "spacing": {"row": 39.6, "column": 69.5}, "concat": [
   {"width": 1, "height": 10, "data": {"values": [{}]}, "mark": {"type": "point", "opacity": 0, "size": 0, "strokeWidth": 0}, "encoding": {}},
   {"width": 586, "height": 106, "data": {"name": "seq"}, "transform": [{"filter": "datum.p == 1"}], "mark": {"type": "rect"},
    "encoding": {
     "x": {"field": "a0", "type": "quantitative", "scale": {"domain": [14.5, 40.52], "nice": false, "zero": false}, "axis": {"title": null, "labels": false, "ticks": false}},
     "x2": {"field": "a1"},
     "y": {"field": "r0", "type": "quantitative", "scale": {"domain": [-14, 114], "reverse": true, "nice": false, "zero": false}, "axis": {"title": null, "values": [0, 20, 40, 60, 80, 100], "labelPadding": 4, "labelOverlap": false}},
     "y2": {"field": "r1"},
     "color": {"field": "s", "type": "nominal", "title": null,
       "scale": {"domain": ["Single", "Separated", "Cohabiting", "Married"], "range": ["#1b476f", "#90353b", "#55752f", "#e37e00"]},
       "legend": {"orient": "none", "legendX": 76, "legendY": 912, "direction": "horizontal", "title": null, "symbolType": "M-1,-0.267H1V0.267H-1Z", "symbolSize": 17161, "symbolStrokeWidth": 0, "symbolOpacity": 1, "clipHeight": 35, "labelFontSize": 28, "labelFont": "Liberation Sans", "labelColor": "#000000", "labelOffset": 22, "columnPadding": 53, "padding": 16, "fillColor": "#ffffff", "strokeColor": "#000000"}}
    }},
   {"width": 604, "height": 107, "data": {"name": "dist"}, "transform": [{"filter": "datum.p == 1"}],
    "encoding": {"x": {"field": "age", "type": "quantitative", "scale": {"domain": [14.2, 40.82], "nice": false, "zero": false}, "axis": {"title": null, "labels": false, "ticks": false}}},
    "layer": [
     {"mark": {"type": "area", "color": "#e37e00"}, "encoding": {"y": {"field": "t", "type": "quantitative", "stack": null, "scale": {"domain": [0, 1.2], "nice": false, "zero": false}, "axis": {"title": null, "values": [0, 0.2, 0.4, 0.6, 0.8, 1], "tickCount": 10, "labelAngle": 270, "labelPadding": 6, "labelFontSize": 17, "labelOverlap": false, "grid": true, "gridColor": "#eaf2f3", "gridWidth": 1.2, "labelExpr": "datum.value == 0 ? '0' : (datum.value >= 1 ? '1' : replace(format(datum.value, '.1f'), '0.', '.'))"}}}},
     {"mark": {"type": "area", "color": "#55752f"}, "encoding": {"y": {"field": "g", "type": "quantitative", "stack": null}}},
     {"mark": {"type": "area", "color": "#90353b"}, "encoding": {"y": {"field": "r", "type": "quantitative", "stack": null}}},
     {"mark": {"type": "area", "color": "#1b476f"}, "encoding": {"y": {"field": "b", "type": "quantitative", "stack": null}}}
    ]},

   {"width": 1, "height": 10, "data": {"values": [{}]}, "mark": {"type": "point", "opacity": 0, "size": 0, "strokeWidth": 0}, "encoding": {}},
   {"width": 586, "height": 106, "data": {"name": "seq"}, "transform": [{"filter": "datum.p == 2"}], "mark": {"type": "rect"},
    "encoding": {
     "x": {"field": "a0", "type": "quantitative", "scale": {"domain": [14.5, 40.52], "nice": false, "zero": false}, "axis": {"title": null, "labels": false, "ticks": false}},
     "x2": {"field": "a1"},
     "y": {"field": "r0", "type": "quantitative", "scale": {"domain": [-26, 226], "reverse": true, "nice": false, "zero": false}, "axis": {"title": null, "values": [0, 50, 100, 150, 200], "labelPadding": 4, "labelOverlap": false}},
     "y2": {"field": "r1"},
     "color": {"field": "s", "type": "nominal", "title": null, "scale": {"domain": ["Single", "Separated", "Cohabiting", "Married"], "range": ["#1b476f", "#90353b", "#55752f", "#e37e00"]}}
    }},
   {"width": 604, "height": 107, "data": {"name": "dist"}, "transform": [{"filter": "datum.p == 2"}],
    "encoding": {"x": {"field": "age", "type": "quantitative", "scale": {"domain": [14.2, 40.82], "nice": false, "zero": false}, "axis": {"title": null, "labels": false, "ticks": false}}},
    "layer": [
     {"mark": {"type": "area", "color": "#e37e00"}, "encoding": {"y": {"field": "t", "type": "quantitative", "stack": null, "scale": {"domain": [0, 1.2], "nice": false, "zero": false}, "axis": {"title": null, "values": [0, 0.2, 0.4, 0.6, 0.8, 1], "tickCount": 10, "labelAngle": 270, "labelPadding": 6, "labelFontSize": 17, "labelOverlap": false, "grid": true, "gridColor": "#eaf2f3", "gridWidth": 1.2, "labelExpr": "datum.value == 0 ? '0' : (datum.value >= 1 ? '1' : replace(format(datum.value, '.1f'), '0.', '.'))"}}}},
     {"mark": {"type": "area", "color": "#55752f"}, "encoding": {"y": {"field": "g", "type": "quantitative", "stack": null}}},
     {"mark": {"type": "area", "color": "#90353b"}, "encoding": {"y": {"field": "r", "type": "quantitative", "stack": null}}},
     {"mark": {"type": "area", "color": "#1b476f"}, "encoding": {"y": {"field": "b", "type": "quantitative", "stack": null}}}
    ]},

   {"width": 1, "height": 10, "data": {"values": [{}]}, "mark": {"type": "point", "opacity": 0, "size": 0, "strokeWidth": 0}, "encoding": {}},
   {"width": 586, "height": 106, "data": {"name": "seq"}, "transform": [{"filter": "datum.p == 3"}], "mark": {"type": "rect"},
    "encoding": {
     "x": {"field": "a0", "type": "quantitative", "scale": {"domain": [14.5, 40.52], "nice": false, "zero": false}, "axis": {"title": null, "labels": false, "ticks": false}},
     "x2": {"field": "a1"},
     "y": {"field": "r0", "type": "quantitative", "scale": {"domain": [-19.6, 169.6], "reverse": true, "nice": false, "zero": false}, "axis": {"title": null, "values": [0, 50, 100, 150], "labelPadding": 4, "labelOverlap": false}},
     "y2": {"field": "r1"},
     "color": {"field": "s", "type": "nominal", "title": null, "scale": {"domain": ["Single", "Separated", "Cohabiting", "Married"], "range": ["#1b476f", "#90353b", "#55752f", "#e37e00"]}}
    }},
   {"width": 604, "height": 107, "data": {"name": "dist"}, "transform": [{"filter": "datum.p == 3"}],
    "encoding": {"x": {"field": "age", "type": "quantitative", "scale": {"domain": [14.2, 40.82], "nice": false, "zero": false}, "axis": {"title": null, "labels": false, "ticks": false}}},
    "layer": [
     {"mark": {"type": "area", "color": "#e37e00"}, "encoding": {"y": {"field": "t", "type": "quantitative", "stack": null, "scale": {"domain": [0, 1.2], "nice": false, "zero": false}, "axis": {"title": null, "values": [0, 0.2, 0.4, 0.6, 0.8, 1], "tickCount": 10, "labelAngle": 270, "labelPadding": 6, "labelFontSize": 17, "labelOverlap": false, "grid": true, "gridColor": "#eaf2f3", "gridWidth": 1.2, "labelExpr": "datum.value == 0 ? '0' : (datum.value >= 1 ? '1' : replace(format(datum.value, '.1f'), '0.', '.'))"}}}},
     {"mark": {"type": "area", "color": "#55752f"}, "encoding": {"y": {"field": "g", "type": "quantitative", "stack": null}}},
     {"mark": {"type": "area", "color": "#90353b"}, "encoding": {"y": {"field": "r", "type": "quantitative", "stack": null}}},
     {"mark": {"type": "area", "color": "#1b476f"}, "encoding": {"y": {"field": "b", "type": "quantitative", "stack": null}}}
    ]},

   {"width": 1, "height": 10, "data": {"values": [{}]}, "mark": {"type": "point", "opacity": 0, "size": 0, "strokeWidth": 0}, "encoding": {}},
   {"width": 586, "height": 106, "data": {"name": "seq"}, "transform": [{"filter": "datum.p == 4"}], "mark": {"type": "rect"},
    "encoding": {
     "x": {"field": "a0", "type": "quantitative", "scale": {"domain": [14.5, 40.52], "nice": false, "zero": false}, "axis": {"title": null, "labels": false, "ticks": false}},
     "x2": {"field": "a1"},
     "y": {"field": "r0", "type": "quantitative", "scale": {"domain": [-32.7, 282.7], "reverse": true, "nice": false, "zero": false}, "axis": {"title": null, "values": [0, 50, 100, 150, 200, 250], "labelPadding": 4, "labelOverlap": false}},
     "y2": {"field": "r1"},
     "color": {"field": "s", "type": "nominal", "title": null, "scale": {"domain": ["Single", "Separated", "Cohabiting", "Married"], "range": ["#1b476f", "#90353b", "#55752f", "#e37e00"]}}
    }},
   {"width": 604, "height": 107, "data": {"name": "dist"}, "transform": [{"filter": "datum.p == 4"}],
    "encoding": {"x": {"field": "age", "type": "quantitative", "scale": {"domain": [14.2, 40.82], "nice": false, "zero": false}, "axis": {"title": null, "labels": false, "ticks": false}}},
    "layer": [
     {"mark": {"type": "area", "color": "#e37e00"}, "encoding": {"y": {"field": "t", "type": "quantitative", "stack": null, "scale": {"domain": [0, 1.2], "nice": false, "zero": false}, "axis": {"title": null, "values": [0, 0.2, 0.4, 0.6, 0.8, 1], "tickCount": 10, "labelAngle": 270, "labelPadding": 6, "labelFontSize": 17, "labelOverlap": false, "grid": true, "gridColor": "#eaf2f3", "gridWidth": 1.2, "labelExpr": "datum.value == 0 ? '0' : (datum.value >= 1 ? '1' : replace(format(datum.value, '.1f'), '0.', '.'))"}}}},
     {"mark": {"type": "area", "color": "#55752f"}, "encoding": {"y": {"field": "g", "type": "quantitative", "stack": null}}},
     {"mark": {"type": "area", "color": "#90353b"}, "encoding": {"y": {"field": "r", "type": "quantitative", "stack": null}}},
     {"mark": {"type": "area", "color": "#1b476f"}, "encoding": {"y": {"field": "b", "type": "quantitative", "stack": null}}}
    ]},

   {"width": 1, "height": 10, "data": {"values": [{}]}, "mark": {"type": "point", "opacity": 0, "size": 0, "strokeWidth": 0}, "encoding": {}},
   {"width": 586, "height": 106, "data": {"name": "seq"}, "transform": [{"filter": "datum.p == 5"}], "mark": {"type": "rect"},
    "encoding": {
     "x": {"field": "a0", "type": "quantitative", "scale": {"domain": [14.5, 40.52], "nice": false, "zero": false}, "axis": {"title": null, "labels": false, "ticks": false}},
     "x2": {"field": "a1"},
     "y": {"field": "r0", "type": "quantitative", "scale": {"domain": [-26, 226], "reverse": true, "nice": false, "zero": false}, "axis": {"title": null, "values": [0, 50, 100, 150, 200], "labelPadding": 4, "labelOverlap": false}},
     "y2": {"field": "r1"},
     "color": {"field": "s", "type": "nominal", "title": null, "scale": {"domain": ["Single", "Separated", "Cohabiting", "Married"], "range": ["#1b476f", "#90353b", "#55752f", "#e37e00"]}}
    }},
   {"width": 604, "height": 107, "data": {"name": "dist"}, "transform": [{"filter": "datum.p == 5"}],
    "encoding": {"x": {"field": "age", "type": "quantitative", "scale": {"domain": [14.2, 40.82], "nice": false, "zero": false}, "axis": {"title": null, "labels": false, "ticks": false}}},
    "layer": [
     {"mark": {"type": "area", "color": "#e37e00"}, "encoding": {"y": {"field": "t", "type": "quantitative", "stack": null, "scale": {"domain": [0, 1.2], "nice": false, "zero": false}, "axis": {"title": null, "values": [0, 0.2, 0.4, 0.6, 0.8, 1], "tickCount": 10, "labelAngle": 270, "labelPadding": 6, "labelFontSize": 17, "labelOverlap": false, "grid": true, "gridColor": "#eaf2f3", "gridWidth": 1.2, "labelExpr": "datum.value == 0 ? '0' : (datum.value >= 1 ? '1' : replace(format(datum.value, '.1f'), '0.', '.'))"}}}},
     {"mark": {"type": "area", "color": "#55752f"}, "encoding": {"y": {"field": "g", "type": "quantitative", "stack": null}}},
     {"mark": {"type": "area", "color": "#90353b"}, "encoding": {"y": {"field": "r", "type": "quantitative", "stack": null}}},
     {"mark": {"type": "area", "color": "#1b476f"}, "encoding": {"y": {"field": "b", "type": "quantitative", "stack": null}}}
    ]},

   {"width": 1, "height": 10, "data": {"values": [{}]}, "mark": {"type": "point", "opacity": 0, "size": 0, "strokeWidth": 0}, "encoding": {}},
   {"width": 586, "height": 77, "data": {"name": "seq"}, "transform": [{"filter": "datum.p == 6"}], "mark": {"type": "rect"},
    "encoding": {
     "x": {"field": "a0", "type": "quantitative", "scale": {"domain": [14.5, 40.52], "nice": false, "zero": false}, "axis": {"title": null, "values": [15, 20, 25, 30, 35, 40], "labelPadding": 7, "labelOverlap": false}},
     "x2": {"field": "a1"},
     "y": {"field": "r0", "type": "quantitative", "scale": {"domain": [-95, 598], "reverse": true, "nice": false, "zero": false}, "axis": {"title": null, "values": [0, 100, 200, 300, 400, 500], "labelPadding": 4, "labelOverlap": false}},
     "y2": {"field": "r1"},
     "color": {"field": "s", "type": "nominal", "title": null, "scale": {"domain": ["Single", "Separated", "Cohabiting", "Married"], "range": ["#1b476f", "#90353b", "#55752f", "#e37e00"]}}
    }},
   {"width": 604, "height": 82.3, "data": {"name": "dist"}, "transform": [{"filter": "datum.p == 6"}],
    "encoding": {"x": {"field": "age", "type": "quantitative", "scale": {"domain": [14.2, 40.82], "nice": false, "zero": false}, "axis": {"title": null, "values": [15, 20, 25, 30, 35, 40], "tickCount": 10, "labelPadding": 6, "labelOverlap": false}}},
    "layer": [
     {"mark": {"type": "area", "color": "#e37e00"}, "encoding": {"y": {"field": "t", "type": "quantitative", "stack": null, "scale": {"domain": [0, 1.28], "nice": false, "zero": false}, "axis": {"title": null, "values": [0, 0.2, 0.4, 0.6, 0.8, 1], "tickCount": 10, "labelAngle": 270, "labelPadding": 6, "labelFontSize": 17, "labelOverlap": false, "grid": true, "gridColor": "#eaf2f3", "gridWidth": 1.2, "labelExpr": "datum.value == 0 ? '0' : (datum.value >= 1 ? '1' : replace(format(datum.value, '.1f'), '0.', '.'))"}}}},
     {"mark": {"type": "area", "color": "#55752f"}, "encoding": {"y": {"field": "g", "type": "quantitative", "stack": null}}},
     {"mark": {"type": "area", "color": "#90353b"}, "encoding": {"y": {"field": "r", "type": "quantitative", "stack": null}}},
     {"mark": {"type": "area", "color": "#1b476f"}, "encoding": {"y": {"field": "b", "type": "quantitative", "stack": null}}}
    ]}
  ]},
  {"width": 1344, "height": 106, "view": {"fill": "#eaf2f3"}, "data": {"values": [{}]}, "mark": {"type": "point", "opacity": 0, "size": 0, "strokeWidth": 0}, "encoding": {}}
 ]}
]
}
